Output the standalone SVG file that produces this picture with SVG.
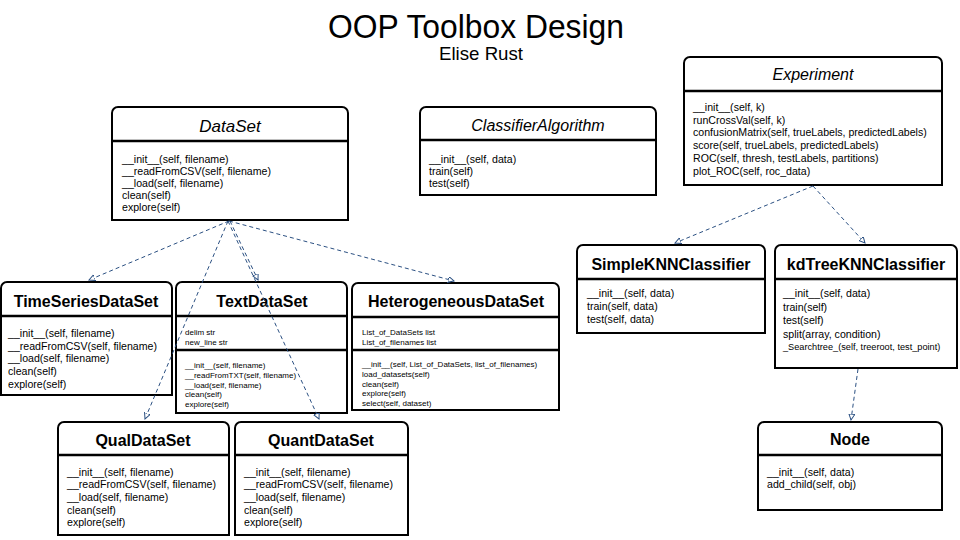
<svg xmlns="http://www.w3.org/2000/svg" width="960" height="540" viewBox="0 0 960 540">
<style>
text{font-family:"Liberation Sans",Arial,sans-serif;fill:#000}
.box{fill:#fff;stroke:#000;stroke-width:2}
.sep{stroke:#000;stroke-width:2.5}
.t{font-size:16px;font-weight:bold;text-anchor:middle}
.it{font-size:16px;font-style:italic;text-anchor:middle}
.m{font-size:10.6px}
.s{font-size:8px}
.xs{font-size:9.2px}
.c{fill:none;stroke:#2b5082;stroke-width:1;stroke-dasharray:4 3;marker-end:url(#tri)}
</style>
<defs>
<marker id="tri" markerUnits="userSpaceOnUse" markerWidth="8" markerHeight="8" refX="6" refY="3" orient="auto">
<path d="M0,0 L6,3 L0,6 Z" fill="#fff" stroke="#2b5082" stroke-width="1"/>
</marker>
</defs>
<rect width="960" height="540" fill="#fff"/>
<text x="476" y="38" font-size="34" text-anchor="middle" textLength="296" lengthAdjust="spacingAndGlyphs">OOP Toolbox Design</text>
<text x="481" y="60" font-size="19" text-anchor="middle" textLength="84" lengthAdjust="spacingAndGlyphs">Elise Rust</text>

<g id="DataSet">
<path class="box" d="M112,220 V113 A6,6 0 0 1 118,107 H342 A6,6 0 0 1 348,113 V220 Z"/>
<line class="sep" x1="112" y1="141" x2="348" y2="141"/>
<text class="it" x="230" y="132" style="font-size:17px">DataSet</text>
<text class="m" x="122" y="163">__init__(self, filename)</text>
<text class="m" x="122" y="175">__readFromCSV(self, filename)</text>
<text class="m" x="122" y="187">__load(self, filename)</text>
<text class="m" x="122" y="199">clean(self)</text>
<text class="m" x="122" y="211">explore(self)</text>
</g>

<g id="ClassifierAlgorithm">
<path class="box" d="M420,195 V113 A6,6 0 0 1 426,107 H650 A6,6 0 0 1 656,113 V195 Z"/>
<line class="sep" x1="420" y1="140" x2="656" y2="140"/>
<text class="it" x="538" y="131">ClassifierAlgorithm</text>
<text class="m" x="429" y="163">__init__(self, data)</text>
<text class="m" x="429" y="175">train(self)</text>
<text class="m" x="429" y="187">test(self)</text>
</g>

<g id="Experiment">
<path class="box" d="M684,185 V63 A6,6 0 0 1 690,57 H936 A6,6 0 0 1 942,63 V185 Z"/>
<line class="sep" x1="684" y1="91" x2="942" y2="91"/>
<text class="it" x="813" y="80">Experiment</text>
<text class="m" x="693" y="111">__init__(self, k)</text>
<text class="m" x="693" y="123.7">runCrossVal(self, k)</text>
<text class="m" x="693" y="136.4">confusionMatrix(self, trueLabels, predictedLabels)</text>
<text class="m" x="693" y="149.1">score(self, trueLabels, predictedLabels)</text>
<text class="m" x="693" y="161.8">ROC(self, thresh, testLabels, partitions)</text>
<text class="m" x="693" y="174.5">plot_ROC(self, roc_data)</text>
</g>

<g id="TimeSeriesDataSet">
<path class="box" d="M1,395 V288 A6,6 0 0 1 7,282 H166 A6,6 0 0 1 172,288 V395 Z"/>
<line class="sep" x1="1" y1="316" x2="172" y2="316"/>
<text class="t" x="86" y="307">TimeSeriesDataSet</text>
<text class="m" x="8" y="337">__init__(self, filename)</text>
<text class="m" x="8" y="349.7">__readFromCSV(self, filename)</text>
<text class="m" x="8" y="362.4">__load(self, filename)</text>
<text class="m" x="8" y="375.1">clean(self)</text>
<text class="m" x="8" y="387.8">explore(self)</text>
</g>

<g id="TextDataSet">
<path class="box" d="M176,413 V288 A6,6 0 0 1 182,282 H341 A6,6 0 0 1 347,288 V413 Z"/>
<line class="sep" x1="176" y1="316" x2="347" y2="316"/>
<line class="sep" x1="176" y1="350" x2="347" y2="350"/>
<text class="t" x="262" y="307">TextDataSet</text>
<text class="s" x="185" y="334.5">delim str</text>
<text class="s" x="185" y="344.5">new_line str</text>
<text class="s" x="185" y="368">__init__(self, filename)</text>
<text class="s" x="185" y="377.8">__readFromTXT(self, filename)</text>
<text class="s" x="185" y="387.6">__load(self, filename)</text>
<text class="s" x="185" y="397.4">clean(self)</text>
<text class="s" x="185" y="407.2">explore(self)</text>
</g>

<g id="HeterogeneousDataSet">
<path class="box" d="M352,410 V289 A6,6 0 0 1 358,283 H553 A6,6 0 0 1 559,289 V410 Z"/>
<line class="sep" x1="352" y1="317" x2="559" y2="317"/>
<line class="sep" x1="352" y1="350" x2="559" y2="350"/>
<text class="t" x="456" y="307">HeterogeneousDataSet</text>
<text class="s" x="362" y="334.5">List_of_DataSets list</text>
<text class="s" x="362" y="344.5">List_of_filenames list</text>
<text class="s" x="362" y="367">__init__(self, List_of_DataSets, list_of_filenames)</text>
<text class="s" x="362" y="376.8">load_datasets(self)</text>
<text class="s" x="362" y="386.6">clean(self)</text>
<text class="s" x="362" y="396.4">explore(self)</text>
<text class="s" x="362" y="406.2">select(self, dataset)</text>
</g>

<g id="QualDataSet">
<path class="box" d="M58,535 V428 A6,6 0 0 1 64,422 H223 A6,6 0 0 1 229,428 V535 Z"/>
<line class="sep" x1="58" y1="455" x2="229" y2="455"/>
<text class="t" x="143" y="446">QualDataSet</text>
<text class="m" x="67" y="475.5">__init__(self, filename)</text>
<text class="m" x="67" y="488.2">__readFromCSV(self, filename)</text>
<text class="m" x="67" y="500.9">__load(self, filename)</text>
<text class="m" x="67" y="513.6">clean(self)</text>
<text class="m" x="67" y="526.3">explore(self)</text>
</g>

<g id="QuantDataSet">
<path class="box" d="M235,535 V428 A6,6 0 0 1 241,422 H402 A6,6 0 0 1 408,428 V535 Z"/>
<line class="sep" x1="235" y1="455" x2="408" y2="455"/>
<text class="t" x="321" y="446">QuantDataSet</text>
<text class="m" x="244" y="475.5">__init__(self, filename)</text>
<text class="m" x="244" y="488.2">__readFromCSV(self, filename)</text>
<text class="m" x="244" y="500.9">__load(self, filename)</text>
<text class="m" x="244" y="513.6">clean(self)</text>
<text class="m" x="244" y="526.3">explore(self)</text>
</g>

<g id="SimpleKNNClassifier">
<path class="box" d="M577,333 V251 A6,6 0 0 1 583,245 H759 A6,6 0 0 1 765,251 V333 Z"/>
<line class="sep" x1="577" y1="279" x2="765" y2="279"/>
<text class="t" x="671" y="270">SimpleKNNClassifier</text>
<text class="m" x="587" y="297">__init__(self, data)</text>
<text class="m" x="587" y="310">train(self, data)</text>
<text class="m" x="587" y="323">test(self, data)</text>
</g>

<g id="kdTreeKNNClassifier">
<path class="box" d="M775,368 V251 A6,6 0 0 1 781,245 H951 A6,6 0 0 1 957,251 V368 Z"/>
<line class="sep" x1="775" y1="279" x2="957" y2="279"/>
<text class="t" x="866" y="270">kdTreeKNNClassifier</text>
<text class="m" x="783" y="297">__init__(self, data)</text>
<text class="m" x="783" y="310.5">train(self)</text>
<text class="m" x="783" y="324">test(self)</text>
<text class="m" x="783" y="337.5">split(array, condition)</text>
<text class="xs" x="783" y="350">_Searchtree_(self, treeroot, test_point)</text>
</g>

<g id="Node">
<path class="box" d="M758,510 V428 A6,6 0 0 1 764,422 H936 A6,6 0 0 1 942,428 V510 Z"/>
<line class="sep" x1="758" y1="455" x2="942" y2="455"/>
<text class="t" x="850" y="445">Node</text>
<text class="m" x="767" y="475.5">__init__(self, data)</text>
<text class="m" x="767" y="488.2">add_child(self, obj)</text>
</g>

<g id="connectors">
<path class="c" d="M229,221 L89,280"/>
<path class="c" d="M228,221 L145,419"/>
<path class="c" d="M230,221 L258,280"/>
<path class="c" d="M228,221 L319,419"/>
<path class="c" d="M229,221 L454,281"/>
<path class="c" d="M813,186 L675,243"/>
<path class="c" d="M813,186 L865,243"/>
<path class="c" d="M858,369 L851,420"/>
</g>
</svg>
